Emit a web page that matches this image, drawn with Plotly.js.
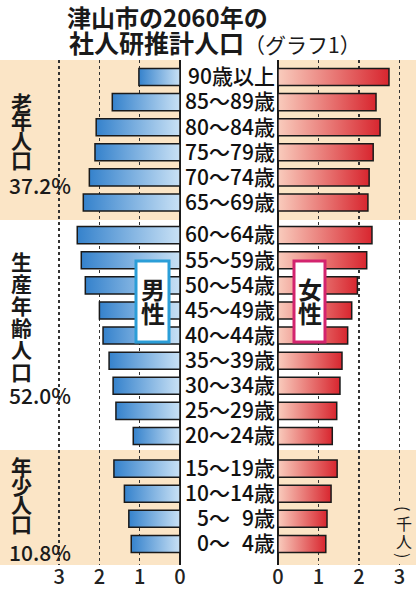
<!DOCTYPE html>
<html><head><meta charset="utf-8">
<script src="https://cdn.plot.ly/plotly-3.0.1.min.js"></script>
<style>html,body{margin:0;padding:0;background:#fff;}#chart{width:416px;height:590px;}</style>
</head><body><div id="chart"></div>
<script>
// ---- data (thousand persons) ----
const ageLabels = ['90歳以上','85〜89歳','80〜84歳','75〜79歳','70〜74歳','65〜69歳',
  '60〜64歳','55〜59歳','50〜54歳','45〜49歳','40〜44歳','35〜39歳','30〜34歳','25〜29歳','20〜24歳',
  '15〜19歳','10〜14歳','5〜\u20079歳','0〜\u20074歳'];
const ageGroup = [0,0,0,0,0,0, 1,1,1,1,1,1,1,1,1, 2,2,2,2];
const male   = [1.02,1.68,2.08,2.11,2.25,2.40, 2.55,2.45,2.35,2.00,1.91,1.76,1.66,1.59,1.16, 1.64,1.38,1.27,1.21];
const female = [2.74,2.42,2.52,2.35,2.25,2.22, 2.32,2.19,1.96,1.82,1.72,1.58,1.53,1.45,1.34, 1.46,1.31,1.21,1.18];
const groupNames  = ['老年人口','生産年齢人口','年少人口'];
const groupShares = ['37.2%','52.0%','10.8%'];
const tickVals = [0,1,2,3];
const titleLine1 = '津山市の2060年の';
const titleLine2 = '社人研推計人口';
const titleNote = '（グラフ1）';
const unitLabel = ['(','千','人',')'];

// ---- layout helpers ----
const W = 416, H = 590;
const FONT = '"Noto Sans CJK JP", "Noto Sans", sans-serif';
const TAN = '#fbe5c6';
const px = v => v / W;
const py = v => 1 - v / H;
const GAP = 0.3;
const pos = ageLabels.map((_, i) => i + GAP * ageGroup[i]);
const yTop = -0.677, yBot = 19.44;

const common = {type:'bar', orientation:'h', y: pos, width: 0.68, hoverinfo:'skip'};
const traces = [
  Object.assign({}, common, {x: male, xaxis:'x', yaxis:'y', marker:{color:'#6aa8e0', line:{color:'#1a1a1a', width:1.5}}}),
  Object.assign({}, common, {x: female, xaxis:'x2', yaxis:'y2', marker:{color:'#ec8a80', line:{color:'#1a1a1a', width:1.5}}})
];

const xCommon = {tickvals: tickVals, ticktext: tickVals.map(String), showgrid:true, gridcolor:'#333',
  griddash:'dot', gridwidth:1.5, zeroline:true, zerolinecolor:'#1a1a1a', zerolinewidth:2,
  showline:false, ticks:'', ticklabelstandoff:-2, tickfont:{family:FONT, size:20, color:'#222', weight:500}, fixedrange:true};

// tan group bands
const shapes = [];
[0,1,2].forEach(g => {
  if (g === 1) return;
  const idx = pos.filter((_, i) => ageGroup[i] === g);
  const y0 = g === 0 ? yTop : idx[0] - 0.74;
  const y1 = g === 2 ? yBot : idx[idx.length-1] + 0.7;
  shapes.push({type:'rect', layer:'below', xref:'paper', yref:'y', x0:0, x1:px(180), y0:y0, y1:y1, fillcolor:TAN, line:{width:0}});
  shapes.push({type:'rect', layer:'below', xref:'paper', yref:'y', x0:px(278), x1:1, y0:y0, y1:y1, fillcolor:TAN, line:{width:0}});
});
// patch behind the unit label (hides the dotted line there)
shapes.push({type:'rect', layer:'above', xref:'paper', yref:'paper', x0:px(396), x1:px(412), y0:py(561), y1:py(502), fillcolor:TAN, line:{width:0}});
// legend boxes
shapes.push({type:'rect', layer:'above', xref:'paper', yref:'paper', x0:px(136), x1:px(169), y0:py(342), y1:py(261), fillcolor:'#fff', line:{color:'#2b9ed8', width:3}});
shapes.push({type:'rect', layer:'above', xref:'paper', yref:'paper', x0:px(294), x1:px(325), y0:py(342), y1:py(261), fillcolor:'#fff', line:{color:'#d3246e', width:3}});

const ann = [];
const txt = (text, x, y, size, opts) => Object.assign({text, x:px(x), y:py(y), xref:'paper', yref:'paper',
  showarrow:false, font:{family:FONT, size, color:'#1a1a1a'}, xanchor:'center', yanchor:'middle'}, opts||{});
// title line 2
ann.push(txt('<b>' + titleLine2 + '</b><span style="font-size:21px">' + titleNote + '</span>', 67, 42, 25, {xanchor:'left'}));
// group labels (vertical)
const blockStart = [101.5, 261, 466], blockStep = [19, 22, 19], shareY = [185, 395, 552];
groupNames.forEach((name, g) => {
  [...name].forEach((ch, k) => ann.push(txt('<b>' + ch + '</b>', 21, blockStart[g] + k*blockStep[g], 21)));
  ann.push(txt(groupShares[g], 7, shareY[g], 21, {xanchor:'left', font:{family:FONT, size:21, color:'#1a1a1a', weight:500}}));
});
// legend text
ann.push(txt('<b>男</b>', 153, 288, 24));
ann.push(txt('<b>性</b>', 153, 312, 24));
ann.push(txt('<b>女</b>', 309.5, 288, 24));
ann.push(txt('<b>性</b>', 309.5, 312, 24));
// unit (vertical)
const unitY = [508, 523, 541, 555], unitAngle = [90, 0, 0, 90];
unitLabel.forEach((ch, k) => ann.push(txt(ch, 404, unitY[k], 16, {textangle: unitAngle[k], borderpad:0})));

const layout = {
  width: W, height: H, margin:{l:0, r:0, t:0, b:0},
  paper_bgcolor:'#fff', plot_bgcolor:'rgba(0,0,0,0)', showlegend:false, barmode:'overlay',
  title:{text:'<b>' + titleLine1 + '</b>', x:px(67), xanchor:'left', xref:'paper', y:py(19), yref:'paper', yanchor:'middle',
    pad:{t:0, b:0, l:0, r:0}, font:{family:FONT, size:24, color:'#1a1a1a'}},
  xaxis: Object.assign({}, xCommon, {domain:[0, px(180)], range:[4.467, 0], anchor:'y'}),
  xaxis2: Object.assign({}, xCommon, {domain:[px(278), 1], range:[0, 3.407], anchor:'y2'}),
  yaxis: {domain:[py(565), py(60)], range:[yBot, yTop], anchor:'x', showticklabels:false, showgrid:false, zeroline:false, ticks:'', fixedrange:true},
  yaxis2: {domain:[py(565), py(60)], range:[yBot, yTop], anchor:'x2', side:'left', matches:'y',
    tickvals: pos, ticktext: ageLabels, showgrid:false, zeroline:false, ticks:'', ticklabelstandoff:2,
    tickfont:{family:FONT, size:21, color:'#111', weight:500}, fixedrange:true},
  shapes, annotations: ann
};

Plotly.newPlot('chart', traces, layout, {staticPlot:true, displayModeBar:false}).then(gd => {
  const NS = 'http://www.w3.org/2000/svg';
  const svg = gd.querySelector('.main-svg');
  let defs = svg.querySelector('defs');
  if (!defs) { defs = document.createElementNS(NS, 'defs'); svg.insertBefore(defs, svg.firstChild); }
  const mk = (id, stops) => {
    const g = document.createElementNS(NS, 'linearGradient');
    g.setAttribute('id', id); g.setAttribute('x1','0'); g.setAttribute('x2','1'); g.setAttribute('y1','0'); g.setAttribute('y2','0');
    stops.forEach(([o, c]) => { const s = document.createElementNS(NS, 'stop'); s.setAttribute('offset', o); s.setAttribute('stop-color', c); g.appendChild(s); });
    defs.appendChild(g);
  };
  mk('gBlue', [['0','#3582cc'], ['1','#c9e1f5']]);
  mk('gRed', [['0','#f9ccbd'], ['1','#d8262f']]);
  const layers = gd.querySelectorAll('.barlayer .trace');
  if (layers[0]) layers[0].querySelectorAll('path').forEach(p => p.style.fill = 'url(#gBlue)');
  if (layers[1]) layers[1].querySelectorAll('path').forEach(p => p.style.fill = 'url(#gRed)');
});
</script></body></html>
